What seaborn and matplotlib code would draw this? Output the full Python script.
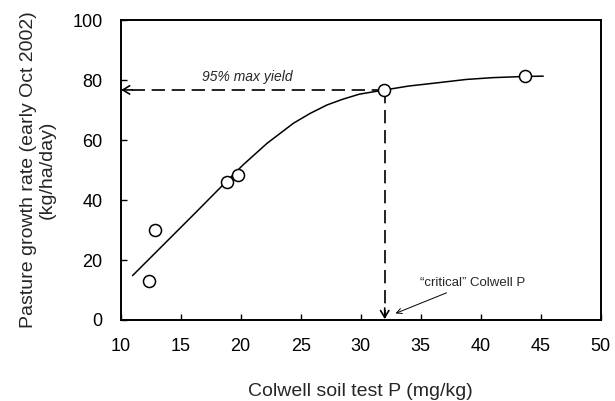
import seaborn as sns
import pandas as pd
import matplotlib.pyplot as plt

# Observed pasture growth vs Colwell P
obs_p = [12.4, 12.9, 18.9, 19.8, 31.9, 43.7]
obs_growth = [13.1, 30.0, 46.1, 48.3, 76.7, 81.3]

# Fitted response curve
fit_p = [11.0, 13.5, 16.3, 18.5, 20.2, 22.2, 24.4, 25.8, 27.2, 28.5,
         29.9, 32.0, 34.0, 36.0, 38.8, 41.0, 43.7, 45.2]
fit_growth = [14.8, 24.8, 36.0, 44.9, 51.7, 58.9, 65.6, 68.9, 71.7, 73.6,
              75.3, 76.7, 78.0, 78.9, 80.2, 80.8, 81.2, 81.3]

critical_p = 32.0
yield_95 = 76.7

x_ticks = [10, 15, 20, 25, 30, 35, 40, 45, 50]
y_ticks = [0, 20, 40, 60, 80, 100]

obs_df = pd.DataFrame({'p': obs_p, 'growth': obs_growth})
fit_df = pd.DataFrame({'p': fit_p, 'growth': fit_growth})

sns.set_style('ticks')
plt.rcParams['font.family'] = ['Liberation Sans', 'DejaVu Sans']

fig = plt.figure(figsize=(6.15, 4.01), dpi=100)
ax = fig.add_axes([0.196, 0.202, 0.781, 0.748])

sns.lineplot(data=fit_df, x='p', y='growth', ax=ax, color='black', lw=1.1,
             sort=False, zorder=2)
sns.scatterplot(data=obs_df, x='p', y='growth', ax=ax, s=75, marker='o',
                facecolor='white', edgecolor='black', linewidth=1.1, zorder=3)

# dashed guide lines with open arrowheads
ax.plot([critical_p, 10.3], [yield_95, yield_95], color='black', lw=1.2,
        linestyle=(0, (8, 4)), zorder=1)
ax.plot([critical_p, critical_p], [yield_95, 0.8], color='black', lw=1.2,
        linestyle=(0, (8, 4)), zorder=1)
ax.annotate('', xy=(10.05, yield_95), xytext=(11.0, yield_95),
            arrowprops=dict(arrowstyle='->,head_length=0.5,head_width=0.3',
                            color='black', lw=1.2, shrinkA=0, shrinkB=0))
ax.annotate('', xy=(critical_p, 0.3), xytext=(critical_p, 4),
            arrowprops=dict(arrowstyle='->,head_length=0.5,head_width=0.3',
                            color='black', lw=1.2, shrinkA=0, shrinkB=0))

ax.text(16.75, 80.9, '95% max yield', fontsize=10, style='italic',
        va='center', ha='left')
ax.annotate('\u201ccritical\u201d Colwell P', xy=(32.9, 2.2),
            xytext=(34.9, 12.5), fontsize=9.5, va='center', ha='left',
            arrowprops=dict(arrowstyle='->,head_length=0.4,head_width=0.2',
                            color='black', lw=0.7, shrinkA=2, shrinkB=0))

ax.set_xlim(10, 50)
ax.set_ylim(0, 100)
ax.set_xticks(x_ticks)
ax.set_yticks(y_ticks)
ax.tick_params(axis='both', direction='in', length=4.5, width=1.0,
               labelsize=13, pad=13, colors='black')
ax.set_xlabel('Colwell soil test P (mg/kg)', fontsize=14, labelpad=20)
ax.set_ylabel('Pasture growth rate (early Oct 2002)\n(kg/ha/day)',
              fontsize=14, labelpad=12, linespacing=1.1)

for side in ['top', 'right', 'left', 'bottom']:
    ax.spines[side].set_visible(True)
    ax.spines[side].set_linewidth(1.4)
    ax.spines[side].set_color('black')

fig.savefig('out.png', dpi=100)
